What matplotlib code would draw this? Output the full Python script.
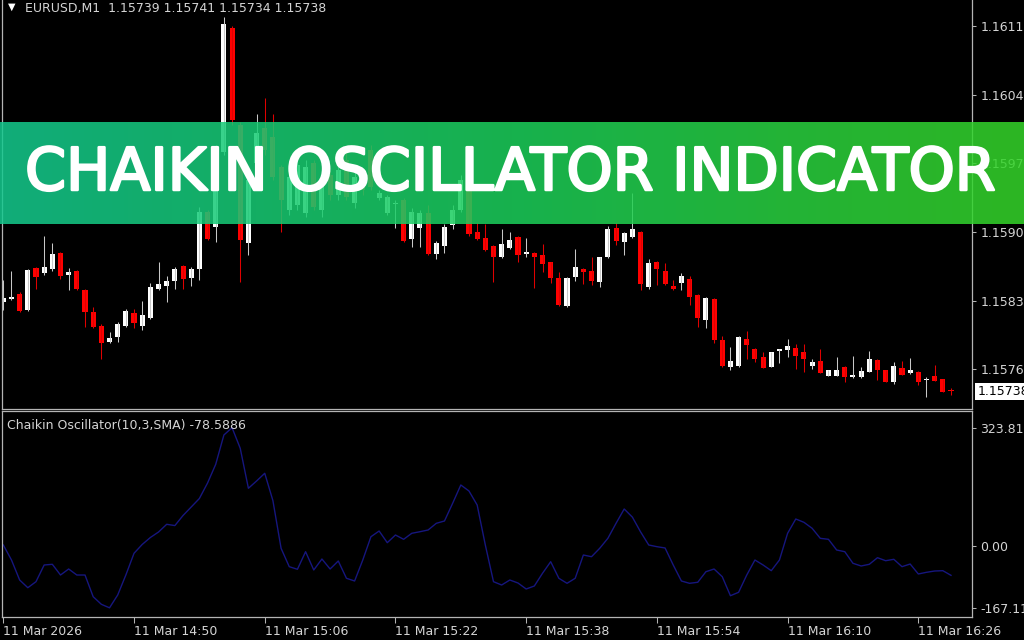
import numpy as np
import matplotlib.pyplot as plt
import matplotlib.patheffects as pe
from matplotlib.colors import LinearSegmentedColormap
from matplotlib.patches import Rectangle

W, H = 1024, 640

# EURUSD M1 candles
opens = [1.15829, 1.15832, 1.15837, 1.15820, 1.15863, 1.15858, 1.15862, 1.15879, 1.15856, 1.15860,
         1.15841, 1.15818, 1.15804, 1.15788, 1.15793, 1.15804, 1.15817, 1.15804, 1.15812, 1.15842,
         1.15845, 1.15850, 1.15865, 1.15853, 1.15862, 1.15920, 1.15905, 1.15982, 1.16108, 1.16009,
         1.15889, 1.15970, 1.16006, 1.15997, 1.15966, 1.15922, 1.15928, 1.15919, 1.15970, 1.15922,
         1.15958, 1.15938, 1.15974, 1.15930, 1.15958, 1.15984, 1.15935, 1.15919, 1.15929, 1.15933,
         1.15893, 1.15904, 1.15919, 1.15878, 1.15886, 1.15907, 1.15922, 1.15945, 1.15900, 1.15894,
         1.15886, 1.15874, 1.15884, 1.15895, 1.15878, 1.15879, 1.15877, 1.15869, 1.15853, 1.15824,
         1.15854, 1.15862, 1.15860, 1.15849, 1.15874, 1.15904, 1.15890, 1.15895, 1.15900, 1.15844,
         1.15869, 1.15860, 1.15845, 1.15848, 1.15852, 1.15836, 1.15810, 1.15832, 1.15790, 1.15762,
         1.15763, 1.15791, 1.15781, 1.15772, 1.15762, 1.15779, 1.15780, 1.15782, 1.15777, 1.15763,
         1.15768, 1.15753, 1.15753, 1.15762, 1.15752, 1.15752, 1.15757, 1.15769, 1.15759, 1.15747,
         1.15761, 1.15756, 1.15757, 1.15749, 1.15753, 1.15750, 1.15739]
highs = [1.15851, 1.15860, 1.15839, 1.15862, 1.15864, 1.15896, 1.15889, 1.15880, 1.15863, 1.15861,
         1.15842, 1.15823, 1.15806, 1.15798, 1.15808, 1.15821, 1.15821, 1.15830, 1.15848, 1.15869,
         1.15855, 1.15864, 1.15866, 1.15864, 1.15926, 1.15922, 1.15989, 1.16120, 1.16110, 1.16012,
         1.15958, 1.16020, 1.16037, 1.16021, 1.15968, 1.15961, 1.15974, 1.15974, 1.15974, 1.15963,
         1.15963, 1.15974, 1.15984, 1.15961, 1.15963, 1.15989, 1.15943, 1.15938, 1.15933, 1.15935,
         1.15925, 1.15922, 1.15928, 1.15891, 1.15908, 1.15928, 1.15958, 1.15948, 1.15909, 1.15908,
         1.15887, 1.15903, 1.15900, 1.15896, 1.15894, 1.15880, 1.15888, 1.15869, 1.15859, 1.15854,
         1.15883, 1.15863, 1.15874, 1.15875, 1.15906, 1.15909, 1.15900, 1.15940, 1.15901, 1.15872,
         1.15870, 1.15868, 1.15851, 1.15858, 1.15855, 1.15837, 1.15834, 1.15833, 1.15794, 1.15783,
         1.15794, 1.15799, 1.15782, 1.15777, 1.15778, 1.15781, 1.15791, 1.15786, 1.15786, 1.15770,
         1.15781, 1.15759, 1.15772, 1.15763, 1.15773, 1.15762, 1.15779, 1.15770, 1.15759, 1.15767,
         1.15768, 1.15771, 1.15758, 1.15752, 1.15764, 1.15750, 1.15741]
lows = [1.15820, 1.15831, 1.15818, 1.15819, 1.15842, 1.15856, 1.15860, 1.15852, 1.15841, 1.15841,
        1.15803, 1.15802, 1.15770, 1.15787, 1.15788, 1.15803, 1.15802, 1.15800, 1.15811, 1.15841,
        1.15829, 1.15842, 1.15842, 1.15845, 1.15851, 1.15892, 1.15890, 1.15979, 1.16009, 1.15849,
        1.15877, 1.15963, 1.15979, 1.15953, 1.15900, 1.15917, 1.15922, 1.15915, 1.15922, 1.15915,
        1.15933, 1.15933, 1.15933, 1.15925, 1.15938, 1.15943, 1.15933, 1.15917, 1.15904, 1.15890,
        1.15885, 1.15885, 1.15877, 1.15872, 1.15879, 1.15903, 1.15920, 1.15896, 1.15892, 1.15881,
        1.15849, 1.15873, 1.15883, 1.15869, 1.15875, 1.15843, 1.15859, 1.15848, 1.15824, 1.15823,
        1.15850, 1.15847, 1.15846, 1.15844, 1.15873, 1.15887, 1.15877, 1.15894, 1.15841, 1.15842,
        1.15846, 1.15846, 1.15841, 1.15841, 1.15825, 1.15803, 1.15802, 1.15787, 1.15762, 1.15759,
        1.15762, 1.15770, 1.15767, 1.15761, 1.15762, 1.15766, 1.15772, 1.15760, 1.15757, 1.15760,
        1.15756, 1.15753, 1.15753, 1.15747, 1.15751, 1.15751, 1.15757, 1.15749, 1.15747, 1.15745,
        1.15754, 1.15755, 1.15744, 1.15732, 1.15748, 1.15737, 1.15734]
closes = [1.15833, 1.15834, 1.15819, 1.15861, 1.15854, 1.15864, 1.15878, 1.15855, 1.15859, 1.15842,
          1.15818, 1.15803, 1.15787, 1.15792, 1.15806, 1.15819, 1.15807, 1.15815, 1.15844, 1.15847,
          1.15850, 1.15862, 1.15852, 1.15862, 1.15920, 1.15893, 1.15986, 1.16112, 1.16014, 1.15892,
          1.15953, 1.16001, 1.15984, 1.15956, 1.15933, 1.15956, 1.15968, 1.15966, 1.15926, 1.15950,
          1.15938, 1.15963, 1.15936, 1.15956, 1.15943, 1.15946, 1.15940, 1.15936, 1.15930, 1.15891,
          1.15920, 1.15919, 1.15878, 1.15889, 1.15905, 1.15922, 1.15953, 1.15898, 1.15893, 1.15882,
          1.15875, 1.15888, 1.15892, 1.15877, 1.15879, 1.15874, 1.15867, 1.15853, 1.15825, 1.15853,
          1.15864, 1.15859, 1.15850, 1.15874, 1.15903, 1.15891, 1.15899, 1.15903, 1.15847, 1.15868,
          1.15862, 1.15847, 1.15842, 1.15855, 1.15834, 1.15812, 1.15833, 1.15790, 1.15763, 1.15768,
          1.15793, 1.15785, 1.15770, 1.15761, 1.15777, 1.15780, 1.15784, 1.15773, 1.15770, 1.15767,
          1.15756, 1.15759, 1.15759, 1.15752, 1.15754, 1.15758, 1.15770, 1.15759, 1.15747, 1.15763,
          1.15754, 1.15759, 1.15747, 1.15750, 1.15748, 1.15737, 1.15738]

# Chaikin Oscillator(10,3,SMA)
chaikin = [4.1, -36.8, -91.3, -112.3, -95.9, -50.4, -48.5, -77.7, -61.3, -77.7,
           -77.7, -136.8, -157.5, -167.1, -132.2, -77.7, -18.5, 5.5, 24.5, 39.5,
           60.5, 57.0, 84.5, 107.6, 130.8, 173.0, 224.0, 303.8, 323.8, 267.6,
           158.6, 178.5, 199.5, 125.0, -4.9, -55.0, -62.1, -14.2, -64.0, -34.1,
           -61.3, -39.5, -86.6, -94.0, -36.8, 26.7, 42.2, 10.4, 31.3, 19.6,
           36.0, 40.3, 45.0, 63.2, 69.5, 117.7, 167.6, 151.2, 113.1, 4.1,
           -95.9, -104.9, -91.3, -99.5, -115.8, -107.6, -73.0, -41.4, -86.6, -100.3,
           -86.6, -23.2, -27.8, -4.9, 22.3, 63.2, 102.2, 80.0, 40.0, 4.1,
           -0.5, -4.0, -50.4, -94.0, -100.3, -97.5, -68.7, -61.3, -82.3, -134.1,
           -124.8, -77.7, -36.8, -50.4, -65.9, -36.8, 36.0, 74.9, 65.9, 49.6,
           22.3, 19.6, -9.5, -14.2, -45.8, -53.1, -48.5, -30.5, -38.7, -34.9,
           -55.0, -47.7, -74.9, -70.3, -66.8, -65.9, -78.59]

time_labels = ['11 Mar 2026', '11 Mar 14:50', '11 Mar 15:06', '11 Mar 15:22',
               '11 Mar 15:38', '11 Mar 15:54', '11 Mar 16:10', '11 Mar 16:26']
time_label_bars = [0, 16, 32, 48, 64, 80, 96, 112]
price_ticks = [1.16110, 1.16040, 1.15970, 1.15900, 1.15830, 1.15760]
osc_ticks = [323.813, 0.0, -167.11]
osc_tick_labels = ['323.813', '0.00', '-167.11']

AXIS = '#b4b4b4'
TXT = '#d4d4d4'

fig = plt.figure(figsize=(W / 100, H / 100), dpi=100, facecolor='black')


def px_axes(x0, y0, x1, y1):
    return fig.add_axes([x0 / W, 1 - y1 / H, (x1 - x0) / W, (y1 - y0) / H])


o, h, l, c = map(np.array, (opens, highs, lows, closes))
x = np.arange(len(o))
up = c >= o
xlim = (-0.16, 118.57)

# price window
ax = px_axes(2, 0, 972, 409)
ax.set_facecolor('black')
ax.vlines(x, l, h, colors=np.where(up, '#c8c8c8', '#e00000'), lw=0.75)
body = np.maximum(np.abs(c - o), 1.1e-5)
ax.bar(x, body, 0.62, bottom=np.minimum(o, c),
       color=np.where(up, 'white', '#ff0000'), lw=0)
ax.set_xlim(*xlim)
ax.set_ylim(1.157193, 1.161369)
ax.set_xticks([])
ax.yaxis.tick_right()
ax.set_yticks(price_ticks)
ax.set_yticklabels([f'{p:.5f}' for p in price_ticks])
ax.tick_params(axis='y', colors=AXIS, labelcolor=TXT, length=3, width=0.75,
               pad=3, labelsize=9)
ax.spines['top'].set_visible(False)
for s in ('left', 'right', 'bottom'):
    ax.spines[s].set_color(AXIS)
    ax.spines[s].set_linewidth(0.9)

# indicator window
ax2 = px_axes(2, 411, 972, 617)
ax2.set_facecolor('black')
ax2.plot(x, chaikin, color='#16167e', lw=1.0)
ax2.set_xlim(*xlim)
ax2.set_ylim(-192.1, 369.2)
ax2.yaxis.tick_right()
ax2.set_yticks(osc_ticks)
ax2.set_yticklabels(osc_tick_labels)
ax2.set_xticks(time_label_bars)
ax2.set_xticklabels(time_labels, ha='left')
ax2.tick_params(axis='y', colors=AXIS, labelcolor=TXT, length=3, width=0.75,
                pad=3, labelsize=9)
ax2.tick_params(axis='x', colors=AXIS, labelcolor=TXT, length=4, width=0.75,
                pad=1.5, labelsize=9)
for s in ax2.spines.values():
    s.set_color(AXIS)
    s.set_linewidth(0.9)

# header texts
fig.text(8 / W, 1 - 7 / H, '\u25bc', color='white', fontsize=7, va='center')
fig.text(25 / W, 1 - 12 / H, 'EURUSD,M1  1.15739 1.15741 1.15734 1.15738',
         color=TXT, fontsize=9, va='baseline')
fig.text(7 / W, 1 - 429 / H, 'Chaikin Oscillator(10,3,SMA) -78.5886',
         color=TXT, fontsize=9, va='baseline')

# current price marker
fig.add_artist(Rectangle((975 / W, 1 - 400 / H), 60 / W, 17 / H,
                         transform=fig.transFigure, fc='white', ec='none'))
fig.text(978 / W, 1 - 391.5 / H, f'{closes[-1]:.5f}', color='black',
         fontsize=9, va='center')

# banner
axb = px_axes(0, 122, 1024, 224)
axb.axis('off')
grad = np.linspace(0, 1, 256)[None, :]
cmap = LinearSegmentedColormap.from_list(
    'banner', ['#14c98e', '#1ccf5b', '#35d529'])
axb.imshow(grad, aspect='auto', cmap=cmap, alpha=0.86, extent=[0, 1, 0, 1])
axb.set_xlim(0, 1)
axb.set_ylim(0, 1)
fig.text(510 / W, 1 - 190 / H, 'CHAIKIN OSCILLATOR INDICATOR', color='white',
         fontsize=42.3, ha='center', va='baseline', family='DejaVu Sans',
         path_effects=[pe.withStroke(linewidth=1.8, foreground='white')])

fig.savefig('out.png', dpi=100, facecolor='black')
